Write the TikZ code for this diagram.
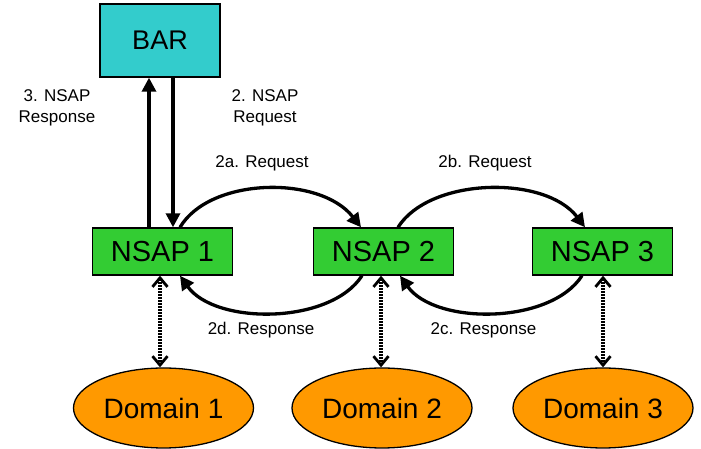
\documentclass[tikz,border=0pt]{standalone}
\usepackage{fontspec}
\setmainfont{Liberation Sans}
\usetikzlibrary{arrows.meta,shapes.geometric}

\definecolor{barcyan}{HTML}{33CCCC}
\definecolor{nsapgreen}{HTML}{33CC33}
\definecolor{domorange}{HTML}{FF9900}

\tikzset{
  barbox/.style={draw=black, line width=1.4pt, fill=barcyan, minimum width=120pt,
    minimum height=73pt, inner sep=0pt, font=\fontsize{27}{30}\selectfont},
  nsapbox/.style={draw=black, line width=1.4pt, fill=nsapgreen, minimum width=140pt,
    minimum height=47pt, inner sep=0pt, font=\fontsize{29}{30}\selectfont},
  domblob/.style={ellipse, draw=black, line width=1.3pt, fill=domorange, minimum width=180pt,
    minimum height=80pt, inner sep=0pt, font=\fontsize{28}{30}\selectfont},
  lbl/.style={align=center, inner sep=0pt, font=\fontsize{17}{21}\selectfont},
  msg/.style={line width=3.3pt, -{Triangle[length=14pt,width=14pt]}},
  link/.style={line width=3.2pt, dash pattern=on 1.8pt off 1.2pt,
    {Straight Barb[length=9pt,width=15pt,line width=2.8pt]}-{Straight Barb[length=9pt,width=15pt,line width=2.8pt]}},
}

\begin{document}
\begin{tikzpicture}[x=1pt,y=1pt]
\useasboundingbox (0,0) rectangle (701,449);

% boxes
\node[barbox]  (bar) at (160,408.5) {BAR};
\node[nsapbox] (n1)  at (162.5,197.5) {NSAP 1};
\node[nsapbox] (n2)  at (383.5,197.5) {NSAP 2};
\node[nsapbox] (n3)  at (602.5,197.5) {NSAP 3};

% domains
\node[domblob] (d1) at (163.5,41) {Domain 1};
\node[domblob] (d2) at (382,41)   {Domain 2};
\node[domblob] (d3) at (603,41)   {Domain 3};

% BAR exchange
\draw[msg] (n1.north -| 149,0) -- (bar.south -| 149,0);
\draw[msg] (bar.south -| 173,0) -- (n1.north -| 173,0);

% requests along the top
\draw[msg] (n1.north -| 180,0) .. controls (210,272) and (320,274) .. (n2.north -| 361,0);
\draw[msg] (n2.north -| 398,0) .. controls (430,272) and (545,274) .. (n3.north -| 585,0);

% responses along the bottom
\draw[msg] (n2.south -| 362,0) .. controls (330,124) and (215,124) .. (n1.south -| 180,0);
\draw[msg] (n3.south -| 582,0) .. controls (550,124) and (435,124) .. (n2.south -| 400,0);

% links to the domains
\draw[link] (n1.south -| 160,0) -- (d1.north -| 160,0);
\draw[link] (n2.south -| 381,0) -- (d2.north -| 381,0);
\draw[link] (n3.south -| 603,0) -- (d3.north -| 603,0);

% labels
\node[lbl] (l3)  at (57,341)    {3. NSAP\\Response};
\node[lbl] (l2)  at (265,341)   {2. NSAP\\Request};
\node[lbl] (l2a) at (262,286)   {2a. Request};
\node[lbl] (l2b) at (485,286)   {2b. Request};
\node[lbl] (l2d) at (261,119)   {2d. Response};
\node[lbl] (l2c) at (483.5,119) {2c. Response};
\end{tikzpicture}
\end{document}
